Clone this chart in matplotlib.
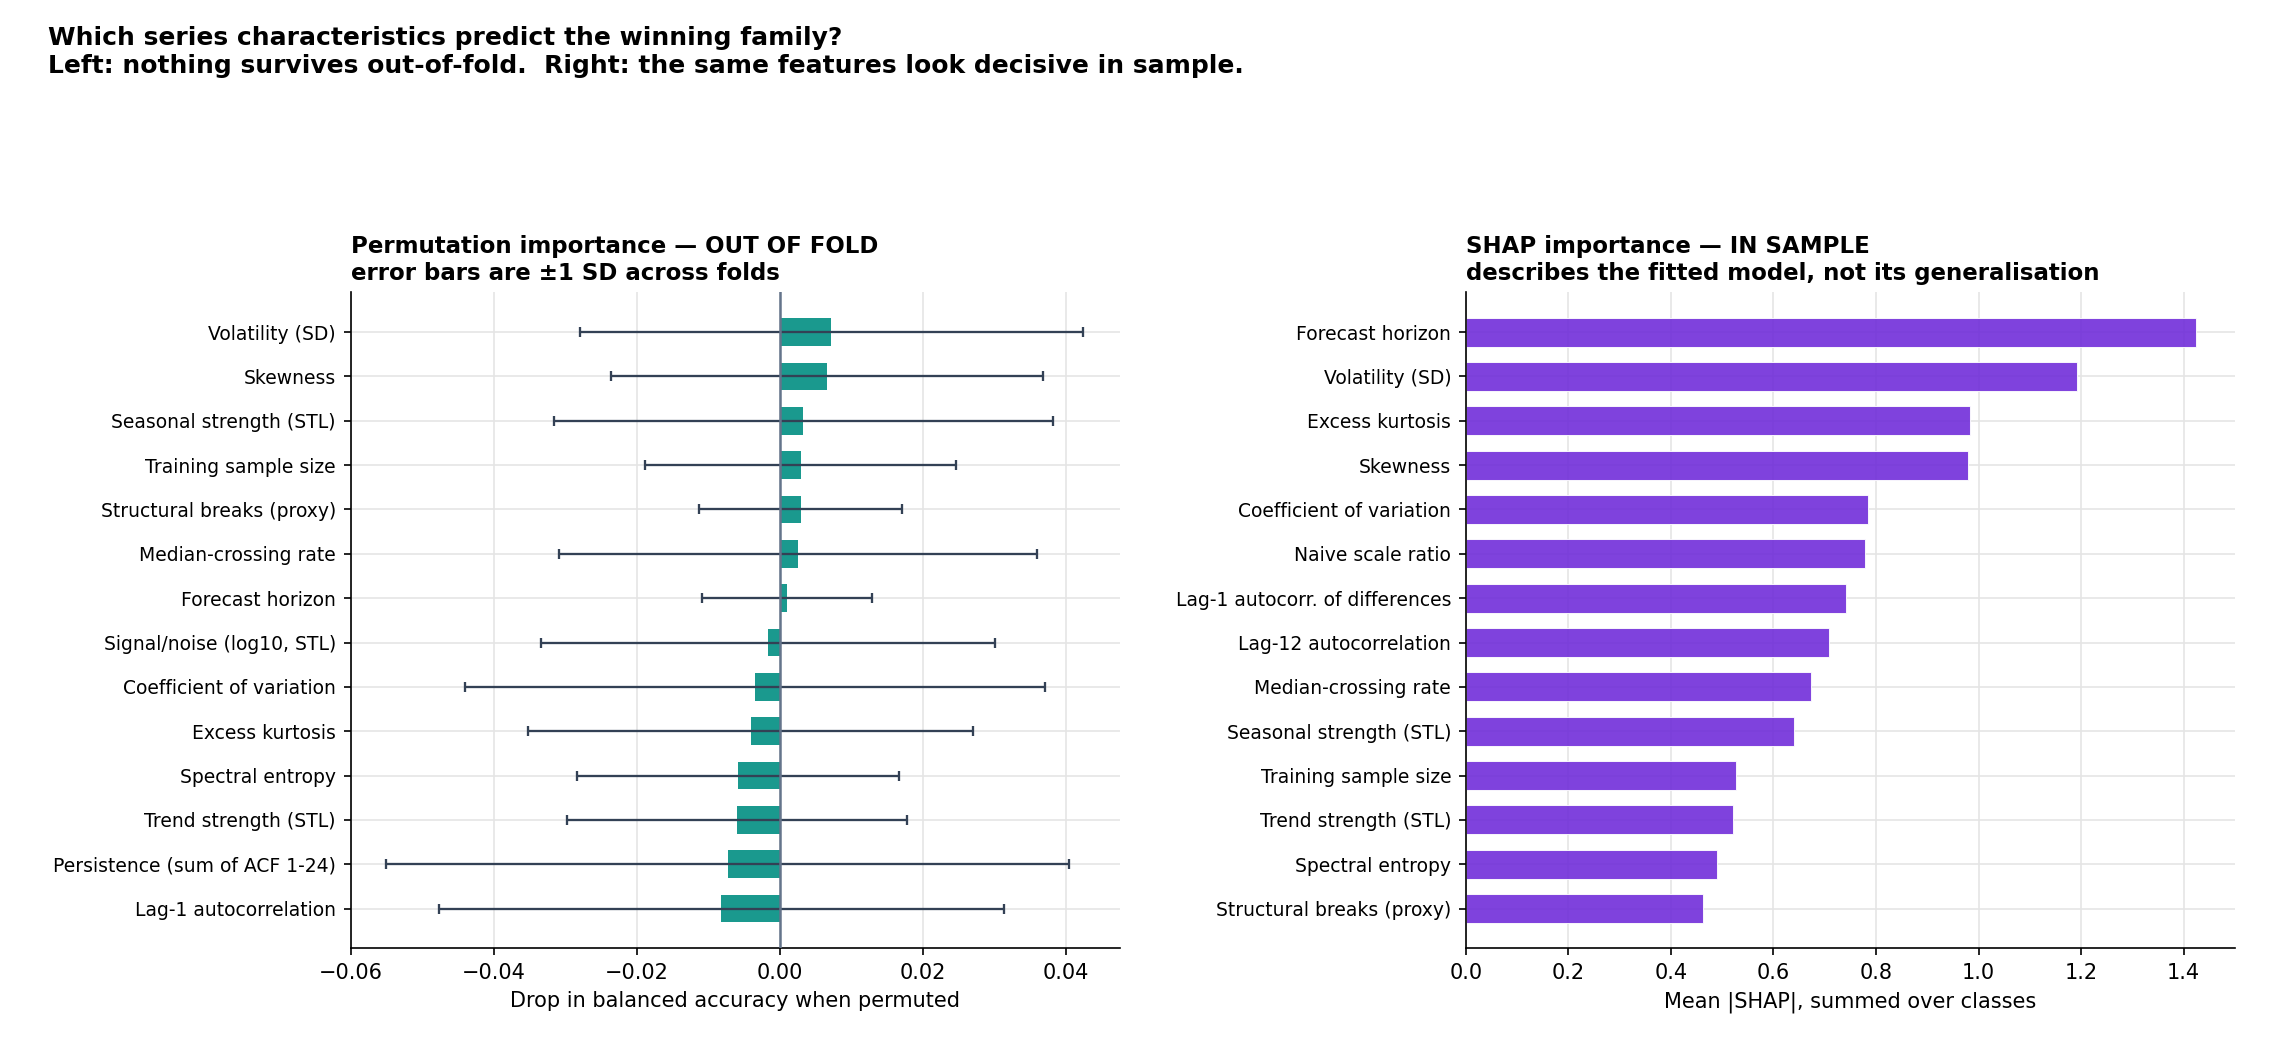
import matplotlib
matplotlib.use("Agg")
import matplotlib.pyplot as plt
import numpy as np

perm_features = ["Volatility (SD)", "Skewness", "Seasonal strength (STL)", "Training sample size",
                 "Structural breaks (proxy)", "Median-crossing rate", "Forecast horizon",
                 "Signal/noise (log10, STL)", "Coefficient of variation", "Excess kurtosis",
                 "Spectral entropy", "Trend strength (STL)", "Persistence (sum of ACF 1-24)",
                 "Lag-1 autocorrelation"]
perm_mean = [0.0072, 0.0066, 0.0033, 0.0029, 0.0029, 0.0025, 0.0010, -0.0017, -0.0035,
             -0.0041, -0.0058, -0.0060, -0.0073, -0.0082]
perm_sd = [0.0351, 0.0302, 0.0349, 0.0217, 0.0142, 0.0334, 0.0119, 0.0317, 0.0405,
           0.0311, 0.0225, 0.0237, 0.0477, 0.0395]

shap_features = ["Forecast horizon", "Volatility (SD)", "Excess kurtosis", "Skewness",
                 "Coefficient of variation", "Naive scale ratio", "Lag-1 autocorr. of differences",
                 "Lag-12 autocorrelation", "Median-crossing rate", "Seasonal strength (STL)",
                 "Training sample size", "Trend strength (STL)", "Spectral entropy",
                 "Structural breaks (proxy)"]
shap_vals = [1.423, 1.192, 0.984, 0.980, 0.785, 0.778, 0.741, 0.708, 0.674, 0.641,
             0.527, 0.521, 0.490, 0.463]

fig = plt.figure(figsize=(2276/150, 1055/150), dpi=150)
ax1 = fig.add_axes([0.154, 0.101, 0.338, 0.622])
ax2 = fig.add_axes([0.644, 0.101, 0.338, 0.622])

y1 = np.arange(len(perm_features))
ax1.barh(y1, perm_mean, height=0.62, color="#0d9488", alpha=0.95, zorder=2)
ax1.errorbar(perm_mean, y1, xerr=perm_sd, fmt="none", ecolor="#334155", elinewidth=1.1,
             capsize=2.5, capthick=1.1, zorder=3)
ax1.axvline(0, color="#64748b", lw=1.2, zorder=4)
ax1.set_yticks(y1)
ax1.set_yticklabels(perm_features, fontsize=9)
ax1.invert_yaxis()
ax1.set_xlim(-0.06, 0.0475)
ax1.set_xlabel("Drop in balanced accuracy when permuted", fontsize=10)
ax1.set_title("Permutation importance — OUT OF FOLD\nerror bars are ±1 SD across folds",
              loc="left", fontsize=11, fontweight="bold")

y2 = np.arange(len(shap_features))
ax2.barh(y2, shap_vals, height=0.65, color="#6d28d9", alpha=0.88, edgecolor="white",
         linewidth=0.5, zorder=2)
ax2.set_yticks(y2)
ax2.set_yticklabels(shap_features, fontsize=9)
ax2.invert_yaxis()
ax2.set_xlim(0, 1.5)
ax2.set_xlabel("Mean |SHAP|, summed over classes", fontsize=10)
ax2.set_title("SHAP importance — IN SAMPLE\ndescribes the fitted model, not its generalisation",
              loc="left", fontsize=11, fontweight="bold")

for ax in (ax1, ax2):
    ax.grid(True, color="#e5e5e5", lw=0.8, zorder=0)
    ax.set_axisbelow(True)
    for s in ("top", "right"):
        ax.spines[s].set_visible(False)
    ax.tick_params(axis="x", labelsize=10)
    ax.set_ylim(len(perm_features) - 0.1, -0.9)

fig.text(0.021, 0.975, "Which series characteristics predict the winning family?\n"
         "Left: nothing survives out-of-fold.  Right: the same features look decisive in sample.",
         fontsize=12, fontweight="bold", va="top", ha="left")

fig.savefig("out.png", dpi=150)
